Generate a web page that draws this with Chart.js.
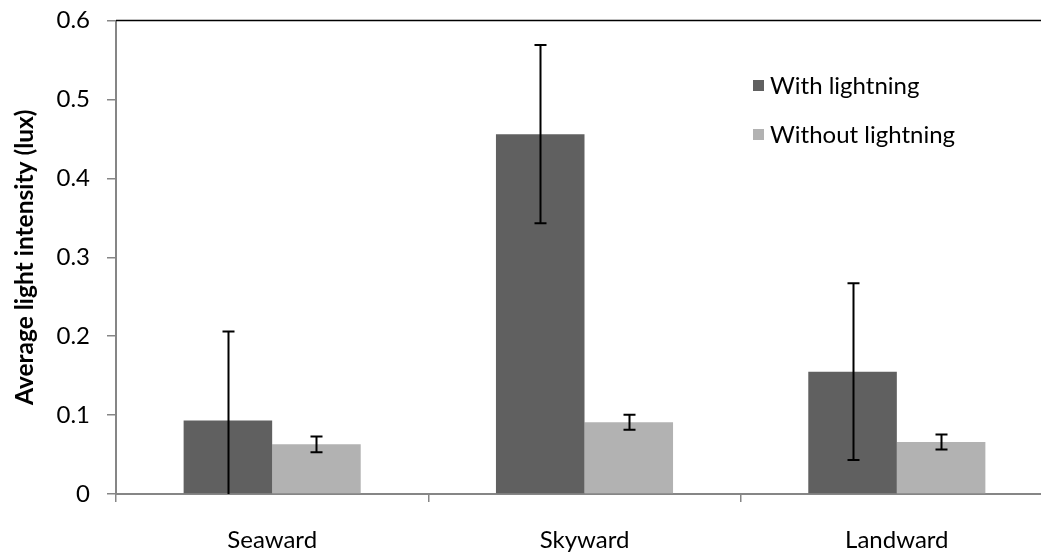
<!DOCTYPE html>
<html>
<head>
<meta charset="utf-8">
<script src="https://cdn.jsdelivr.net/npm/chart.js@4.4.1/dist/chart.umd.min.js"></script>
<style>
  html, body { margin: 0; padding: 0; background: #fff; overflow: hidden; }
  #wrap { position: relative; width: 1060px; height: 554px; }
</style>
</head>
<body>
<div id="wrap"><canvas id="c"></canvas></div>
<script>
// Average light intensity by viewing direction, with and without lightning
const categories = ['Seaward', 'Skyward', 'Landward'];
const seriesNames = ['With lightning', 'Without lightning'];
const withLightning = [0.093, 0.456, 0.155];
const withLightningErr = [0.113, 0.113, 0.112];
const withoutLightning = [0.063, 0.091, 0.066];
const withoutLightningErr = [0.010, 0.0095, 0.0095];
const yTicks = [0, 0.1, 0.2, 0.3, 0.4, 0.5, 0.6];

const FONT = 'Lato, "Open Sans", sans-serif';
const AXIS_GREY = '#868686';

// whiskers drawn from each dataset's error array via the chart scales
const errorBars = {
  id: 'errorBars',
  afterDatasetsDraw(chart) {
    const ctx = chart.ctx;
    const y = chart.scales.y;
    const area = chart.chartArea;
    ctx.save();
    ctx.strokeStyle = '#000';
    ctx.lineWidth = 2;
    chart.data.datasets.forEach((ds, di) => {
      const meta = chart.getDatasetMeta(di);
      meta.data.forEach((bar, i) => {
        const v = ds.data[i], e = ds.errors[i];
        const yTop = y.getPixelForValue(v + e);
        const lowVal = v - e;
        const yBot = Math.min(y.getPixelForValue(Math.max(lowVal, y.min)), area.bottom);
        const x = Math.round(bar.x) + 0.5;
        ctx.beginPath();
        ctx.moveTo(x, yTop); ctx.lineTo(x, yBot);
        ctx.moveTo(x - 6, yTop); ctx.lineTo(x + 6, yTop);
        if (lowVal >= y.min) { ctx.moveTo(x - 6, yBot); ctx.lineTo(x + 6, yBot); }
        ctx.stroke();
      });
    });
    ctx.restore();
  }
};

// black frame line along the top of the plot
const topFrame = {
  id: 'topFrame',
  afterDraw(chart) {
    const a = chart.chartArea, ctx = chart.ctx;
    ctx.save();
    ctx.strokeStyle = '#000';
    ctx.lineWidth = 1.5;
    ctx.beginPath();
    ctx.moveTo(a.left, a.top); ctx.lineTo(a.right + 20, a.top);
    ctx.stroke();
    ctx.restore();
  }
};

// legend placed inside the plot, upper right
const innerLegend = {
  id: 'innerLegend',
  afterDraw(chart) {
    const ctx = chart.ctx;
    const x0 = 753, y0 = 86, step = 49;
    ctx.save();
    ctx.font = '24px ' + FONT;
    ctx.textBaseline = 'middle';
    chart.data.datasets.forEach((ds, i) => {
      const cy = y0 + i * step;
      ctx.fillStyle = ds.backgroundColor;
      ctx.fillRect(x0, cy - 6, 11, 11);
      ctx.fillStyle = '#000';
      ctx.fillText(ds.label, x0 + 17, cy);
    });
    ctx.restore();
  }
};

new Chart(document.getElementById('c'), {
  type: 'bar',
  data: {
    labels: categories,
    datasets: [
      { label: seriesNames[0], data: withLightning, errors: withLightningErr,
        backgroundColor: '#606060', borderWidth: 0 },
      { label: seriesNames[1], data: withoutLightning, errors: withoutLightningErr,
        backgroundColor: '#b2b2b2', borderWidth: 0 }
    ]
  },
  options: {
    responsive: true,
    maintainAspectRatio: false,
    animation: false,
    layout: { padding: { top: 20.5, right: 7, left: 0, bottom: 0 } },
    datasets: { bar: { categoryPercentage: 0.567, barPercentage: 1.0 } },
    plugins: { legend: { display: false }, tooltip: { enabled: false } },
    scales: {
      x: {
        grid: { display: true, drawOnChartArea: false, drawTicks: true, tickLength: 8,
                color: AXIS_GREY, lineWidth: 1.5, offset: true },
        border: { display: true, color: AXIS_GREY, width: 2 },
        ticks: { color: '#000', font: { family: FONT, size: 24 }, padding: 24 },
        afterFit(s) { s.height = 60; }
      },
      y: {
        min: 0, max: 0.6,
        afterBuildTicks(s) { s.ticks = yTicks.map(v => ({ value: v })); },
        grid: { display: true, drawOnChartArea: false, drawTicks: true, tickLength: 9,
                color: AXIS_GREY, lineWidth: 1.5 },
        border: { display: true, color: AXIS_GREY, width: 2 },
        ticks: { color: '#000', font: { family: FONT, size: 24 }, padding: 17,
                 callback: v => String(v) },
        title: { display: true, text: 'Average light intensity (lux)', color: '#000',
                 font: { family: FONT, size: 24.5, weight: 'bold' }, padding: { top: 10, bottom: 0 } },
        afterFit(s) { s.width = 116; s.paddingTop = 0; s.paddingBottom = 0; }
      }
    }
  },
  plugins: [errorBars, topFrame, innerLegend]
});
</script>
</body>
</html>
